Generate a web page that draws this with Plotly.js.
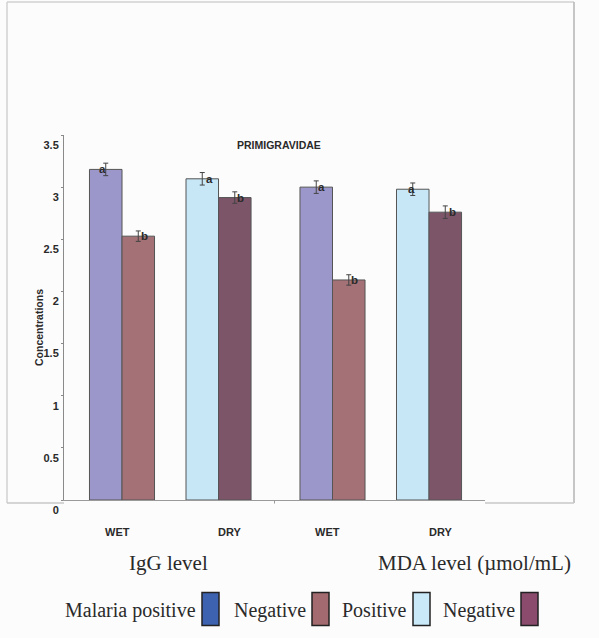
<!DOCTYPE html>
<html>
<head>
<meta charset="utf-8">
<script src="https://cdn.plot.ly/plotly-3.0.1.min.js"></script>
<style>html,body{margin:0;padding:0;background:#fcfcfc;}#chart{width:599px;height:638px;}</style>
</head>
<body>
<div id="chart"></div>
<script>
// ---- data ----
const categories = ['WET', 'DRY'];
const iggFirst = [3.17, 3.08];
const iggSecond = [2.53, 2.90];
const mdaFirst = [3.00, 2.98];
const mdaSecond = [2.11, 2.76];
const iggFirstErr = [0.06, 0.06];
const iggSecondErr = [0.05, 0.055];
const mdaFirstErr = [0.06, 0.06];
const mdaSecondErr = [0.05, 0.06];
const firstLetters = ['a', 'a'];
const secondLetters = ['b', 'b'];
const yTicks = [0, 0.5, 1, 1.5, 2, 2.5, 3, 3.5];
const legendNames = ['Malaria positive', 'Negative', 'Positive', 'Negative'];
const panelTitles = ['IgG level', 'MDA level (\u00b5mol/mL)'];
const chartTitle = 'PRIMIGRAVIDAE';
const yTitle = 'Concentrations';

// ---- styles ----
const firstColors = ['#9c97ca', '#c7e7f7'];
const secondColors = ['#a37176', '#7c5569'];
const legendColors = ['#3c62b0', '#a36b6f', '#c9e9f9', '#8a4b6c'];
const legendSwatchLeft = [202, 312, 413, 521];
const iggFirstShift = [-3, 7], iggSecondShift = [6, 6];
const mdaFirstShift = [5, -1], mdaSecondShift = [6, 7];
const catLabelShift = [-5, 11];
const bargap = 0.326;

const W = 599, H = 638, L = 64, R = 485, T = 135, B = 500;
const px = v => (v - L) / (R - L);
const py = v => (B - v) / (B - T);
const boldSans = {family: 'Liberation Sans, Arial, sans-serif', size: 11, color: '#2a2a2a', weight: 'bold'};
const serif = {family: 'Liberation Serif, Times New Roman, serif', size: 21, color: '#2a2a2a'};

function barTrace(vals, errs, colors, xa) {
  return {
    type: 'bar', x: categories, y: vals, xaxis: xa, yaxis: 'y',
    marker: {color: colors, line: {color: '#555', width: 1}},
    error_y: {type: 'data', array: errs, visible: true, color: '#444', thickness: 1, width: 2.5},
    showlegend: false, hoverinfo: 'none'
  };
}
const data = [
  barTrace(iggFirst, iggFirstErr, firstColors, 'x'),
  barTrace(iggSecond, iggSecondErr, secondColors, 'x'),
  barTrace(mdaFirst, mdaFirstErr, firstColors, 'x2'),
  barTrace(mdaSecond, mdaSecondErr, secondColors, 'x2')
];

const half = (1 - bargap) / 4;
const annotations = [];
function letters(vals, lets, shifts, sign, xref) {
  vals.forEach((v, i) => annotations.push({
    xref: xref, yref: 'y', x: i + sign * half, y: v, text: lets[i], showarrow: false,
    xshift: shifts[i], xanchor: 'center', yanchor: 'middle', font: Object.assign({}, boldSans, {size: 11.5})
  }));
}
letters(iggFirst, firstLetters, iggFirstShift, -1, 'x');
letters(iggSecond, secondLetters, iggSecondShift, 1, 'x');
letters(mdaFirst, firstLetters, mdaFirstShift, -1, 'x2');
letters(mdaSecond, secondLetters, mdaSecondShift, 1, 'x2');

['x', 'x2'].forEach(xr => categories.forEach((c, i) => annotations.push({
  xref: xr, yref: 'paper', x: i, y: py(531.7), text: c, showarrow: false,
  xshift: catLabelShift[i], xanchor: 'center', yanchor: 'middle', font: boldSans
})));

annotations.push({xref: 'paper', yref: 'paper', x: px(168.5), y: py(563), text: panelTitles[0],
  showarrow: false, xanchor: 'center', yanchor: 'middle', font: serif});
annotations.push({xref: 'paper', yref: 'paper', x: px(474.5), y: py(563), text: panelTitles[1],
  showarrow: false, xanchor: 'center', yanchor: 'middle', font: serif});
annotations.push({xref: 'paper', yref: 'paper', x: px(279), y: py(145), text: chartTitle,
  showarrow: false, xanchor: 'center', yanchor: 'middle', font: Object.assign({}, boldSans, {size: 10.5})});
annotations.push({xref: 'paper', yref: 'paper', x: px(39), y: py(328), text: yTitle, textangle: -90,
  showarrow: false, xanchor: 'center', yanchor: 'middle', font: Object.assign({}, boldSans, {size: 10.5})});

const shapes = [];
const line = (x0, y0, x1, y1, color) => shapes.push({type: 'line', xref: 'paper', yref: 'paper',
  x0: px(x0), y0: py(y0), x1: px(x1), y1: py(y1), line: {color: color, width: 1.5}});
line(7, 2, 574, 2, '#d2d2d2');
line(7, 2, 7, 503, '#d2d2d2');
line(574, 2, 574, 503, '#b4b4b4');
line(7, 503, 64, 503, '#c8c8c8');
line(485, 503, 574, 503, '#c8c8c8');
shapes.push({type: 'line', xref: 'paper', yref: 'paper', x0: 0.5, x1: 0.5, y0: 0, y1: py(503.5), line: {color: '#999', width: 1}});

legendNames.forEach((n, i) => {
  const x0 = legendSwatchLeft[i];
  shapes.push({type: 'rect', xref: 'paper', yref: 'paper', x0: px(x0), x1: px(x0 + 17), y0: py(592.5), y1: py(625.5),
    fillcolor: legendColors[i], line: {color: '#222', width: 1.5}});
  annotations.push({xref: 'paper', yref: 'paper', x: px(x0 - 4), y: py(610), text: n, showarrow: false,
    xanchor: 'right', yanchor: 'middle', font: Object.assign({}, serif, {size: 20})});
});

const xCommon = {type: 'category', range: [-0.601, 1.58], showticklabels: false, ticks: '',
  showline: true, linecolor: '#9a9a9a', linewidth: 1, showgrid: false, zeroline: false, fixedrange: true};
const layout = {
  width: W, height: H,
  margin: {l: L, r: W - R, t: T, b: H - B, pad: 0},
  paper_bgcolor: '#fcfcfc', plot_bgcolor: '#fcfcfc',
  barmode: 'group', bargap: bargap, bargroupgap: 0,
  xaxis: Object.assign({}, xCommon, {domain: [0, 0.5], anchor: 'y'}),
  xaxis2: Object.assign({}, xCommon, {domain: [0.5, 1], anchor: 'y'}),
  yaxis: {range: [0, 3.5], tickvals: yTicks, ticktext: yTicks.map(String), ticks: 'outside', ticklen: 2,
    tickcolor: '#888', showline: true, linecolor: '#8a8a8a', linewidth: 1, showgrid: false, zeroline: false,
    tickfont: boldSans, ticklabelshift: 10, anchor: 'x', fixedrange: true},
  annotations: annotations, shapes: shapes, showlegend: false
};
Plotly.newPlot('chart', data, layout, {staticPlot: true, displayModeBar: false});
</script>
</body>
</html>
